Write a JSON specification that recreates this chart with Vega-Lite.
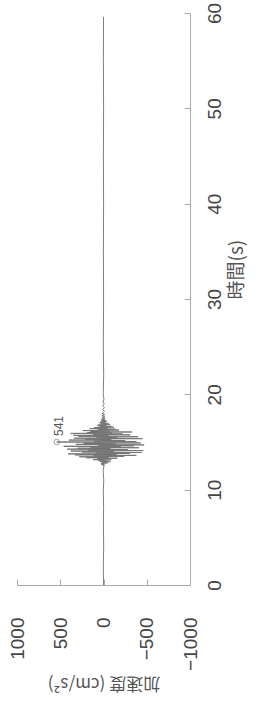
{
  "$schema": "https://vega.github.io/schema/vega-lite/v6.json",
  "width": 173,
  "height": 572,
  "autosize": {"type": "none"},
  "padding": {"left": 17, "top": 13, "right": 75, "bottom": 117},
  "background": "white",
  "config": {
    "view": {"stroke": null},
    "axis": {
      "labelFont": "Liberation Sans",
      "labelFontSize": 19,
      "labelColor": "#444",
      "domainColor": "#aaa",
      "tickColor": "#aaa",
      "tickSize": -6,
      "grid": false,
      "titleFont": "Noto Sans CJK JP",
      "titleFontSize": 17,
      "titleFontWeight": "normal",
      "titleColor": "#555"
    }
  },
  "datasets": {
    "wave": [
      {"t": 0, "a": 0}, {"t": 2, "a": 2}, {"t": 4, "a": -2}, {"t": 6, "a": 1}, {"t": 8, "a": -1},
      {"t": 10, "a": 2}, {"t": 11, "a": -3}, {"t": 12, "a": 4}, {"t": 12.5, "a": -6},
      {"t": 12.55, "a": 8}, {"t": 12.6, "a": -12}, {"t": 12.65, "a": 25}, {"t": 12.7, "a": -10},
      {"t": 12.75, "a": 30}, {"t": 12.8, "a": -45}, {"t": 12.85, "a": 15}, {"t": 12.9, "a": -60},
      {"t": 12.95, "a": 40}, {"t": 13.0, "a": -85}, {"t": 13.05, "a": 60}, {"t": 13.1, "a": -30},
      {"t": 13.15, "a": 120}, {"t": 13.2, "a": -90}, {"t": 13.25, "a": 70}, {"t": 13.3, "a": -160},
      {"t": 13.35, "a": 200}, {"t": 13.4, "a": -60}, {"t": 13.45, "a": 280}, {"t": 13.5, "a": -240},
      {"t": 13.55, "a": 120}, {"t": 13.6, "a": -380}, {"t": 13.65, "a": 330}, {"t": 13.7, "a": -150},
      {"t": 13.75, "a": 410}, {"t": 13.8, "a": -300}, {"t": 13.85, "a": 90}, {"t": 13.9, "a": -440},
      {"t": 13.95, "a": 250}, {"t": 14.0, "a": -120}, {"t": 14.05, "a": 380}, {"t": 14.1, "a": -460},
      {"t": 14.15, "a": 180}, {"t": 14.2, "a": -280}, {"t": 14.25, "a": 420}, {"t": 14.3, "a": -80},
      {"t": 14.35, "a": 300}, {"t": 14.4, "a": -410}, {"t": 14.45, "a": 150}, {"t": 14.5, "a": -200},
      {"t": 14.55, "a": 460}, {"t": 14.6, "a": -350}, {"t": 14.65, "a": 60}, {"t": 14.7, "a": -470},
      {"t": 14.75, "a": 320}, {"t": 14.8, "a": -140}, {"t": 14.85, "a": 230}, {"t": 14.9, "a": -430},
      {"t": 14.95, "a": 100}, {"t": 15.0, "a": 541}, {"t": 15.05, "a": -380}, {"t": 15.1, "a": 110},
      {"t": 15.15, "a": -250}, {"t": 15.2, "a": 400}, {"t": 15.25, "a": -90}, {"t": 15.3, "a": 210},
      {"t": 15.35, "a": -450}, {"t": 15.4, "a": 340}, {"t": 15.45, "a": -160}, {"t": 15.5, "a": 80},
      {"t": 15.55, "a": -400}, {"t": 15.6, "a": 290}, {"t": 15.65, "a": -60}, {"t": 15.7, "a": 350},
      {"t": 15.75, "a": -310}, {"t": 15.8, "a": 120}, {"t": 15.85, "a": -220}, {"t": 15.9, "a": 380},
      {"t": 15.95, "a": -100}, {"t": 16.0, "a": 190}, {"t": 16.05, "a": -330}, {"t": 16.1, "a": 150},
      {"t": 16.15, "a": -70}, {"t": 16.2, "a": 240}, {"t": 16.25, "a": -180}, {"t": 16.3, "a": 60},
      {"t": 16.35, "a": -140}, {"t": 16.4, "a": 160}, {"t": 16.45, "a": -50}, {"t": 16.5, "a": 110},
      {"t": 16.55, "a": -120}, {"t": 16.6, "a": 40}, {"t": 16.65, "a": -90}, {"t": 16.7, "a": 70},
      {"t": 16.75, "a": -30}, {"t": 16.8, "a": 60}, {"t": 16.85, "a": -75}, {"t": 16.9, "a": 25},
      {"t": 16.95, "a": -55}, {"t": 17.0, "a": 45}, {"t": 17.05, "a": -20}, {"t": 17.1, "a": 40},
      {"t": 17.15, "a": -35}, {"t": 17.2, "a": 15}, {"t": 17.25, "a": -30}, {"t": 17.3, "a": 28},
      {"t": 17.35, "a": -12}, {"t": 17.4, "a": 22}, {"t": 17.5, "a": -20}, {"t": 17.6, "a": 18},
      {"t": 17.7, "a": -15}, {"t": 17.8, "a": 17}, {"t": 17.9, "a": -12}, {"t": 18.0, "a": 15},
      {"t": 18.2, "a": -12}, {"t": 18.4, "a": 11}, {"t": 18.6, "a": -10}, {"t": 18.8, "a": 9},
      {"t": 19.0, "a": -8}, {"t": 19.2, "a": 6}, {"t": 19.5, "a": -5}, {"t": 20, "a": 3},
      {"t": 22, "a": -2}, {"t": 25, "a": 2}, {"t": 30, "a": -1}, {"t": 35, "a": 1}, {"t": 40, "a": -1},
      {"t": 45, "a": 1}, {"t": 50, "a": -1}, {"t": 55, "a": 1}, {"t": 59.6, "a": 0}
    ],
    "peak": [{"t": 15.0, "a": 541, "label": "541"}]
  },
  "layer": [
    {
      "data": {"name": "wave"},
      "mark": {"type": "line", "color": "#707070", "strokeWidth": 0.9},
      "encoding": {
        "x": {
          "field": "a", "type": "quantitative",
          "scale": {"domain": [-1000, 1000], "reverse": true, "nice": false},
          "axis": {
            "orient": "bottom",
            "values": [-1000, -500, 0, 500, 1000],
            "format": "d",
            "labelAngle": -90,
            "labelAlign": "right",
            "labelBaseline": "middle",
            "labelPadding": 38,
            "labelFlush": false,
            "labelOverlap": false,
            "title": "加速度 (cm/s²)",
            "titleAngle": 180,
            "titleBaseline": "bottom",
            "titlePadding": 3
          }
        },
        "y": {
          "field": "t", "type": "quantitative",
          "scale": {"domain": [0, 60], "nice": false},
          "axis": {
            "orient": "right",
            "values": [0, 10, 20, 30, 40, 50, 60],
            "labelAngle": -90,
            "labelAlign": "center",
            "labelBaseline": "top",
            "labelPadding": 21,
            "labelFlush": false,
            "labelOverlap": false,
            "title": "時間(s)",
            "titleFontSize": 19,
            "titleAngle": -90,
            "titleAlign": "left",
            "titleBaseline": "top",
            "titlePadding": 3
          }
        },
        "order": {"field": "t", "type": "quantitative"}
      }
    },
    {
      "data": {"name": "peak"},
      "mark": {"type": "point", "shape": "circle", "size": 30, "color": "#777", "strokeWidth": 1, "filled": false},
      "encoding": {
        "x": {"field": "a", "type": "quantitative"},
        "y": {"field": "t", "type": "quantitative"}
      }
    },
    {
      "data": {"name": "peak"},
      "mark": {"type": "text", "angle": -90, "align": "left", "baseline": "middle", "dx": 6, "dy": 2, "fontSize": 12, "font": "Liberation Sans", "color": "#555"},
      "encoding": {
        "x": {"field": "a", "type": "quantitative"},
        "y": {"field": "t", "type": "quantitative"},
        "text": {"field": "label"}
      }
    }
  ]
}
